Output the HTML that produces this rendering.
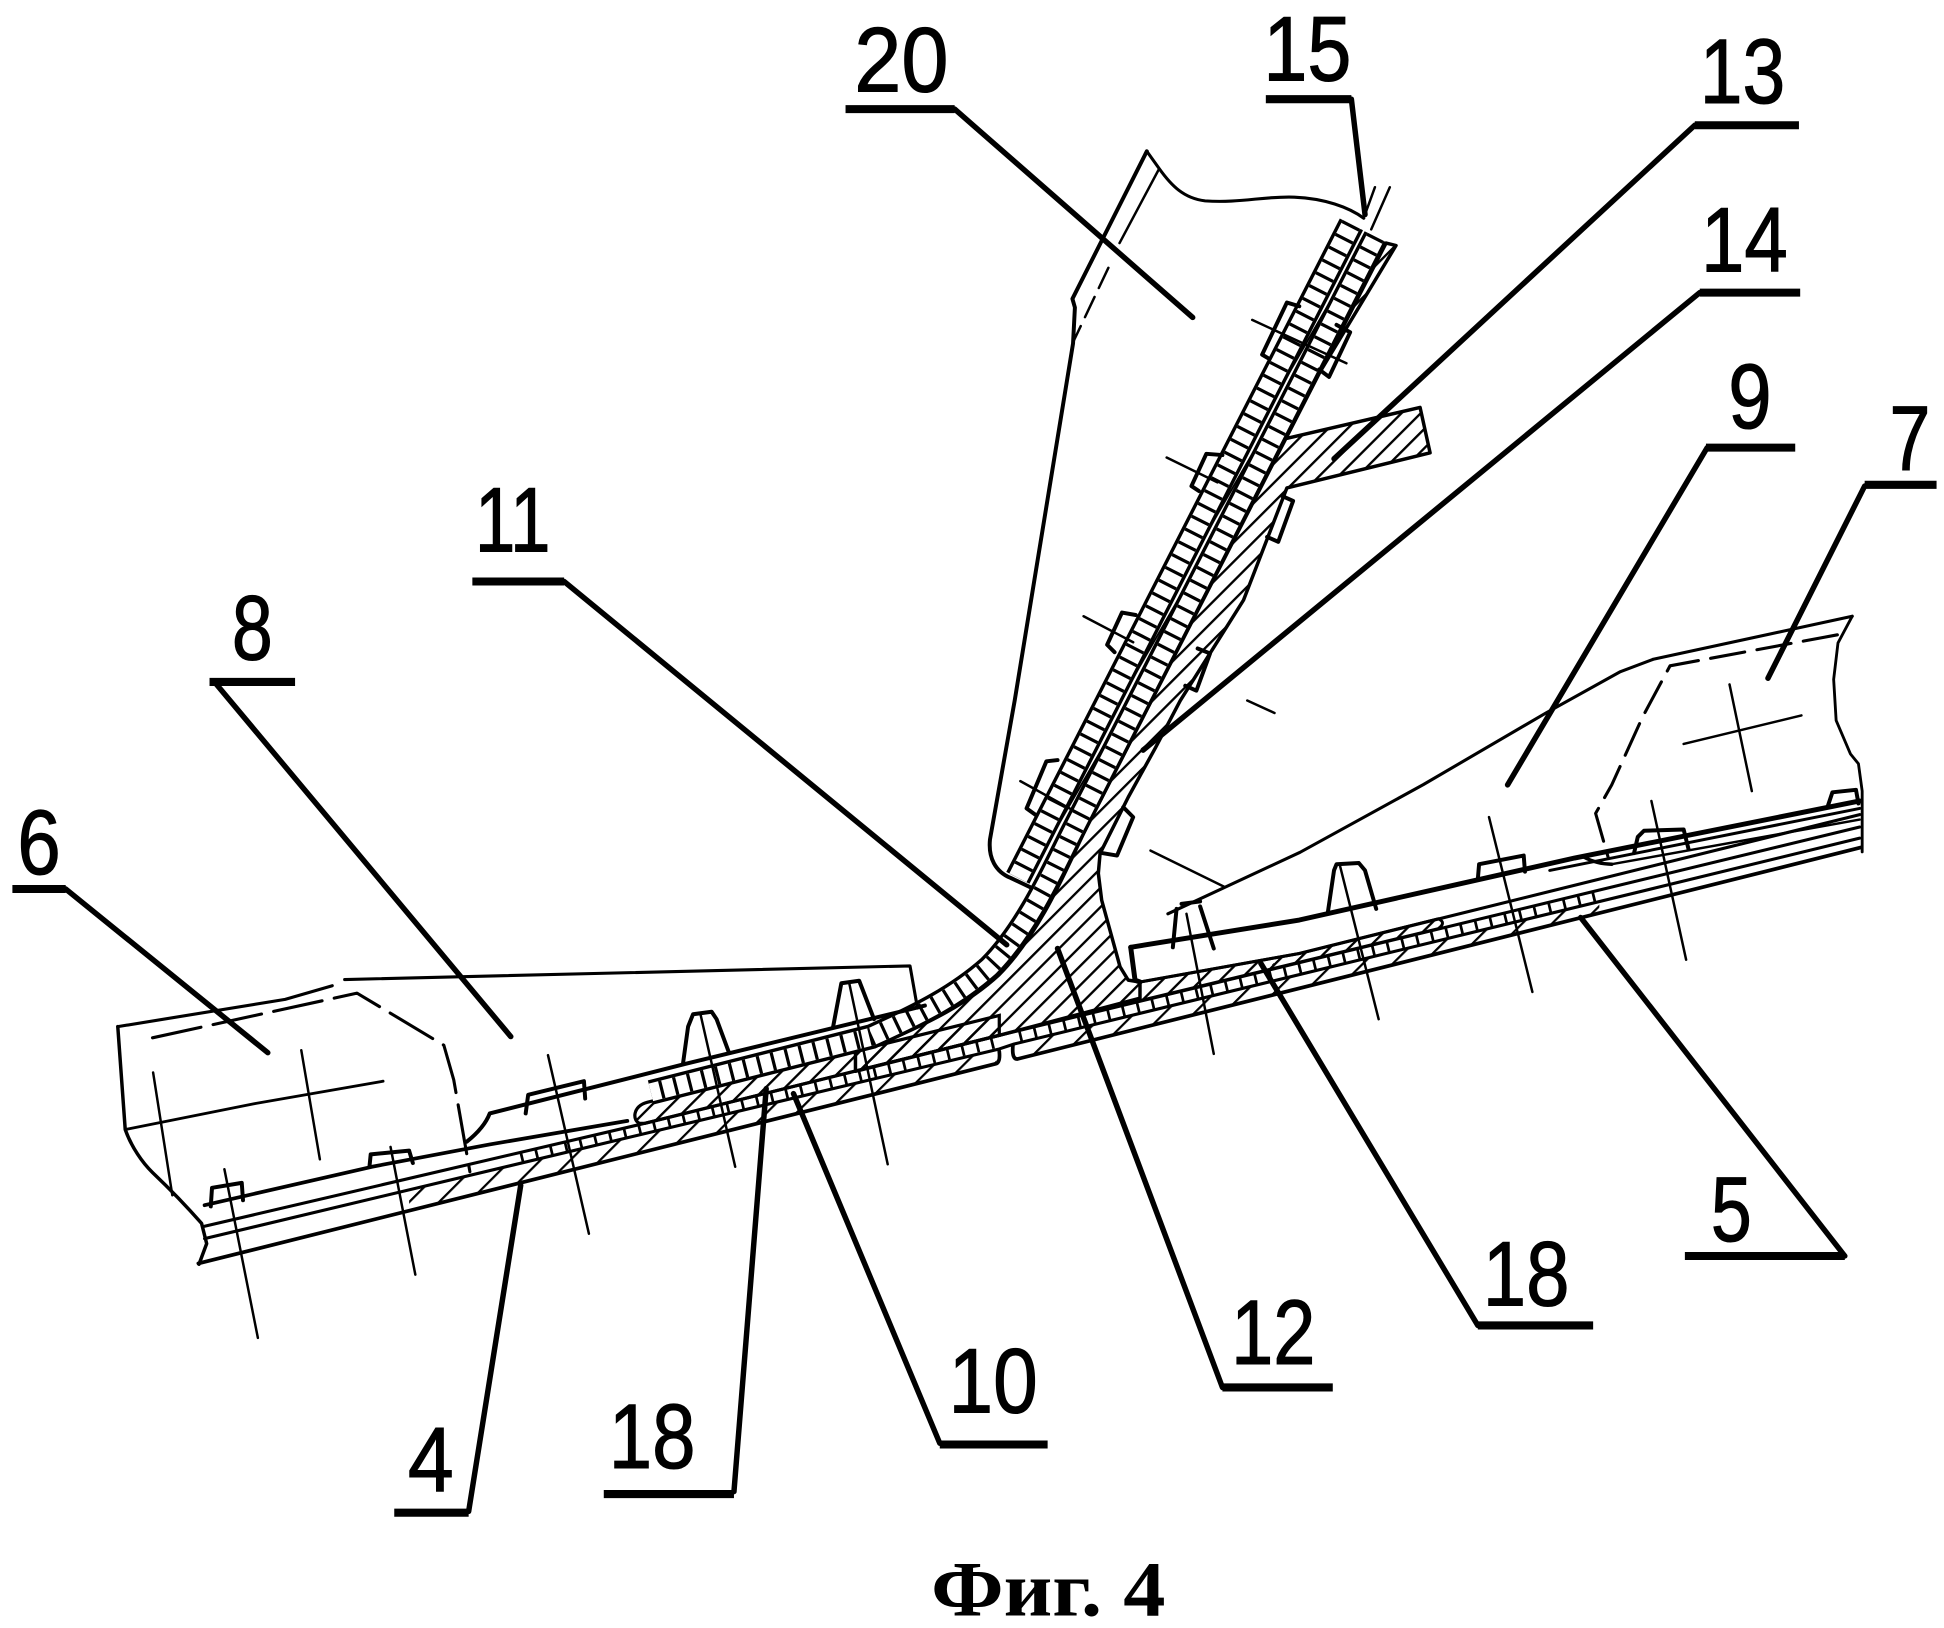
<!DOCTYPE html>
<html>
<head>
<meta charset="utf-8">
<style>
html,body{margin:0;padding:0;background:#fff;}
svg{display:block;}
</style>
</head>
<body>
<svg width="1944" height="1628" viewBox="0 0 1568 1313" preserveAspectRatio="none" xmlns="http://www.w3.org/2000/svg">
<defs>
  <pattern id="h" patternUnits="userSpaceOnUse" width="11" height="11" patternTransform="rotate(45)">
    <rect x="0" y="0" width="1.9" height="11" fill="#000"/>
  </pattern>
  <pattern id="h2" patternUnits="userSpaceOnUse" width="17" height="17" patternTransform="rotate(45)">
    <rect x="0" y="0" width="1.8" height="17" fill="#000"/>
  </pattern>
  <pattern id="h3" patternUnits="userSpaceOnUse" width="7" height="7" patternTransform="rotate(30)">
    <rect x="0" y="0" width="1.6" height="7" fill="#000"/>
  </pattern>
</defs>
<rect x="0" y="0" width="1568" height="1313" fill="#fff"/>

<!-- ===== hatched regions ===== -->
<!-- part 12 with flange 13 -->
<path d="M1118,196 L875,670 C862,697 839,753 806,786 C781,809 750,825 707,843 L690,847 L690,864 L806,835 L919.5,805 L919.5,792 L910,790.5 L903.4,779.7 L888.6,726 L885.9,704.4 L887.3,688.3 L910,643 L932,603 L952,565 L1003,484 L1038,393.5 L1153.5,365.2 L1145.4,328.6 L1031.6,355 L1126,198 Z" fill="url(#h)" stroke="#000" stroke-width="2.8" stroke-linejoin="round"/>
<!-- part 10 -->
<path d="M516,906 C510,904 510,892 522,889 L806,819 L806,835 L520,906 Z" fill="url(#h)" stroke="#000" stroke-width="2.6"/>
<!-- skins -->
<path d="M330,976.4 L803,858 L806,846 L330,959.6 Z" fill="url(#h2)" stroke="none"/>
<path d="M821,854 L1290,736 L1290,728 L817,843 Z" fill="url(#h2)" stroke="none"/>
<path d="M919.5,792 L1048,769 L1160,741 Q1167,744 1160,749 L919.5,807 Z" fill="url(#h)" stroke="#000" stroke-width="2.4"/>

<g fill="none" stroke="#000" stroke-linecap="butt">
  <!-- film 15 gap (hatched) -->
  <path d="M1100,186 L831,713" stroke="url(#h3)" stroke-width="5"/>
  <!-- chequered strip 1 -->
  <path d="M1090,181 L821,708" stroke-width="21"/>
  <path d="M1090,181 L821,708" stroke="#fff" stroke-width="15.5"/>
  <path d="M1090,181 L821,708" stroke-width="15.5" stroke-dasharray="2.6 9"/>
  <!-- chequered strip 2 (11) -->
  <path d="M1109.6,191 L867,667 C852,696 830,748 798,780 C772,803 743,818 703,836 L525,881" stroke-width="20"/>
  <path d="M1109.6,191 L867,667 C852,696 830,748 798,780 C772,803 743,818 703,836 L525,881" stroke="#fff" stroke-width="14.5"/>
  <path d="M1109.6,191 L867,667 C852,696 830,748 798,780 C772,803 743,818 703,836 L525,881" stroke-width="14.5" stroke-dasharray="2.6 9"/>
  <!-- rail chequer layers -->
  <path d="M420,934 L806,840" stroke-width="9" stroke-dasharray="2.2 10"/>
  <path d="M822,835.5 L1290,722" stroke-width="9" stroke-dasharray="2.2 10"/>
</g>

<g fill="none" stroke="#000" stroke-linejoin="round" stroke-linecap="round">
  <!-- ===== rails ===== -->
  <path d="M160,1019 L803,858 Q807,857 806,848" stroke-width="3"/>
  <path d="M1501,683.5 L821,854 Q816,855 817,843" stroke-width="3"/>
  <path d="M165,999 L806,846 L818,842 L1500,676" stroke-width="2.5"/>
  <path d="M165,989 L520,906 L806,835 L1500,667" stroke-width="2.5"/>
  <path d="M165,972 L300,941 L395,923 L506,904" stroke-width="3"/>
  <path d="M376.5,920.8 C385,914 392,906 395,898 L553,858 L734,814 L746,811" stroke-width="3.2"/>
  <path d="M919.5,792 L1048,769 L1500,657" stroke-width="2.5"/>
  <path d="M912,764 L1048,742 L1270,692 L1500,646" stroke-width="4"/>
  <path d="M912,764 L915.5,790.5 L919.5,792" stroke-width="4"/>
  <path d="M1250,702 L1500,652" stroke-width="2.4"/>
  <path d="M1300,697 L1500,661" stroke-width="2"/>

  <!-- ===== part 6 / 8 box ===== -->
  <path d="M95,828 L101,911 C106,925 115,938 123,945.6 C135,957 148,970 162.6,986.7 L166.7,1003 L160.5,1019.6" stroke-width="2.8"/>
  <path d="M95,828 L230,806 L268,795" stroke-width="2.5"/>
  <path d="M278,790 L734,779 L740,813" stroke-width="2.5"/>
  <path d="M123,837 L288,801 L358,843 L366,871 L379,945" stroke-width="2.5" stroke-dasharray="40 10"/>
  <path d="M101,911 L206,890 L309,872" stroke-width="2.3"/>
  <path d="M123.5,865 L139,964" stroke-width="2"/>
  <path d="M243,847 L258,935" stroke-width="2"/>

  <!-- ===== part 20 ===== -->
  <path d="M925,122 L935,136 C945,150 955,160 972,162 C1000,164 1020,158 1044,159 C1068,160 1088,167 1100,176" stroke-width="2.5"/>
  <path d="M925,122 L865,241 L867,248 L865.5,277 L818.5,564.6 L798.5,677 C797,692 803,703 815,708 L832,716" stroke-width="3.2"/>
  <path d="M935,136 L903,196" stroke-width="2"/>
  <path d="M894,216 L866,275" stroke-width="2" stroke-dasharray="18 8"/>
  <!-- film 15 top -->
  <path d="M1121,151 L1106,185" stroke-width="2"/>
  <path d="M1109,151 L1101,173" stroke-width="2"/>

  <!-- ===== parts 9 / 7 ===== -->
  <path d="M942,737 L1048.6,687.4 L1148,632.8 L1247,575 L1307,541.7 L1333.5,531.7 L1494,497" stroke-width="2.5"/>
  <path d="M1494,497 L1482.5,518.5 L1479,548 L1481,581 L1492.5,608 L1499,616 L1502,638 L1502,687" stroke-width="2.3"/>
  <path d="M1482,512 L1347,537 L1325,578 L1300,633 L1287,656 L1297,691" stroke-width="2.5" stroke-dasharray="28 10"/>
  <path d="M1277,691 Q1288,697 1300,697" stroke-width="2.8"/>

  <!-- ===== bolts ===== -->
  <g stroke-width="3.2">
    <path d="M170,973 L171,958 L195,954 L196,968"/>
    <path d="M298,941 L299,931 L330,928 L333,938"/>
    <path d="M424,898 L426,883 L471,872 L472,886"/>
    <path d="M551,857 L555,828 L559,818 L574,816 L578,822 L588,849"/>
    <path d="M672,828 L678.6,793 L693,791 L705,822"/>
    <path d="M946,764 L949,733"/>
    <path d="M953,729 L968,727"/>
    <path d="M968,731 L979,765"/>
    <path d="M1071,736 L1076,702 L1078,697 L1096,696 L1101,702 L1110,733"/>
    <path d="M1192,709 L1193,697 L1229,690 L1230,703"/>
    <path d="M1318,688 L1321,675 L1326,670 L1358,669 L1362,685"/>
    <path d="M1474,651 L1478,639 L1497,637 L1499,648"/>
    <path d="M1048,247 L1038,244 L1018,286 L1023,289"/>
    <path d="M1078,262 L1089,268 L1072,304 L1064,298"/>
    <path d="M986,367 L973,366 L961,392 L967,396"/>
    <path d="M1034,400 L1043,404 L1031,437 L1022,433"/>
    <path d="M916,496 L905,494 L893,520 L899,526"/>
    <path d="M966,523 L976,527 L965,557 L956,553"/>
    <path d="M853,613 L844,614 L828,652 L835,657"/>
    <path d="M906,651 L914,659 L901,690 L889,688"/>
  </g>

  <!-- ===== centerlines ===== -->
  <g stroke-width="2">
    <path d="M181,943 L208,1079"/>
    <path d="M315,925 L335,1028"/>
    <path d="M442,851 L475,995"/>
    <path d="M565,818 L593,941"/>
    <path d="M685,793 L716,939"/>
    <path d="M957,737 L979,850"/>
    <path d="M1081,699 L1112,822"/>
    <path d="M1201,659 L1236,800"/>
    <path d="M1332,646 L1360,774"/>
    <path d="M1395,552 L1413,638"/>
    <path d="M1358,600 L1453,577"/>
    <path d="M928,686 L987,715"/>
    <path d="M1006,565 L1028,575"/>
    <path d="M1010,258 L1086,293"/>
    <path d="M941,369 L982,389"/>
    <path d="M874,497 L914,518"/>
    <path d="M823,630 L879,661"/>
  </g>

  <!-- ===== leaders ===== -->
  <g stroke-width="4.4">
    <path d="M770,88 L962,256"/>
    <path d="M1090,80 L1101,173"/>
    <path d="M1367,101 L1076,370"/>
    <path d="M1371,236 L922,605"/>
    <path d="M1377,361 L1216,633"/>
    <path d="M1504,392 L1426,547"/>
    <path d="M455,469 L812,762"/>
    <path d="M173,550 L412,836"/>
    <path d="M53,717 L216,849"/>
    <path d="M378,1219 L420,956"/>
    <path d="M592,1203 L618,878"/>
    <path d="M758,1164 L640,882"/>
    <path d="M986,1119 L853,765"/>
    <path d="M1192,1069 L1017,777"/>
    <path d="M1488,1013 L1275,740"/>
  </g>

  <!-- ===== underlines ===== -->
  <g stroke-width="6.5" stroke-linecap="butt">
    <path d="M682,88 L770,88"/>
    <path d="M1021,80 L1090,80"/>
    <path d="M1367,101 L1451,101"/>
    <path d="M1371,236 L1452,236"/>
    <path d="M1376,361 L1448,361"/>
    <path d="M1504,391 L1562,391"/>
    <path d="M381,469 L455,469"/>
    <path d="M169,550 L238,550"/>
    <path d="M10,717 L53,717"/>
    <path d="M318,1220 L378,1220"/>
    <path d="M487,1205 L592,1205"/>
    <path d="M758,1165 L845,1165"/>
    <path d="M986,1119 L1075,1119"/>
    <path d="M1192,1069 L1285,1069"/>
    <path d="M1359,1013 L1488,1013"/>
  </g>
</g>

<!-- ===== labels ===== -->
<g font-family="'Liberation Sans', Arial, sans-serif" font-size="74" fill="#000" stroke="#000" stroke-width="0.9">
  <text x="689" y="74" textLength="76" lengthAdjust="spacingAndGlyphs">20</text>
  <text x="1019" y="65" textLength="71" lengthAdjust="spacingAndGlyphs">15</text>
  <text x="1371" y="83" textLength="69" lengthAdjust="spacingAndGlyphs">13</text>
  <text x="1372" y="219" textLength="70" lengthAdjust="spacingAndGlyphs">14</text>
  <text x="1394" y="345" textLength="35" lengthAdjust="spacingAndGlyphs">9</text>
  <text x="1524" y="379" textLength="33" lengthAdjust="spacingAndGlyphs">7</text>
  <text x="383" y="445" textLength="61" lengthAdjust="spacingAndGlyphs">11</text>
  <text x="187" y="532" textLength="33" lengthAdjust="spacingAndGlyphs">8</text>
  <text x="14" y="705" textLength="35" lengthAdjust="spacingAndGlyphs">6</text>
  <text x="329" y="1203" textLength="37" lengthAdjust="spacingAndGlyphs">4</text>
  <text x="491" y="1184" textLength="70" lengthAdjust="spacingAndGlyphs">18</text>
  <text x="765" y="1139" textLength="72" lengthAdjust="spacingAndGlyphs">10</text>
  <text x="993" y="1100" textLength="68" lengthAdjust="spacingAndGlyphs">12</text>
  <text x="1196" y="1053" textLength="70" lengthAdjust="spacingAndGlyphs">18</text>
  <text x="1380" y="1001" textLength="33" lengthAdjust="spacingAndGlyphs">5</text>
</g>
<text x="751" y="1303" font-family="'Liberation Serif', 'Times New Roman', serif" font-weight="bold" font-size="63" textLength="189" lengthAdjust="spacingAndGlyphs" fill="#000">Фиг. 4</text>
</svg>
</body>
</html>
